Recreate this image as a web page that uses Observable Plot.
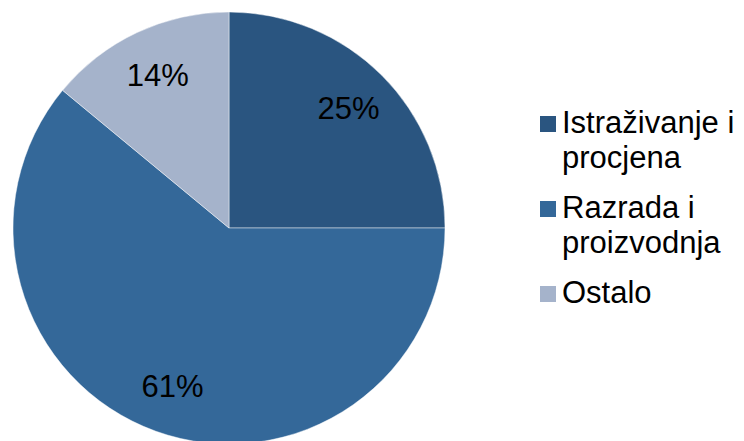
<!DOCTYPE html>
<html>
<head>
<meta charset="utf-8">
<script src="https://cdn.jsdelivr.net/npm/d3@7"></script>
<script src="https://cdn.jsdelivr.net/npm/@observablehq/plot@0.6"></script>
<style>
  html, body { margin: 0; padding: 0; background: #fff; }
  #wrap { position: relative; width: 744px; height: 441px; overflow: hidden; font-family: "Liberation Sans", Arial, sans-serif; }
  #legend { position: absolute; left: 540px; top: 106px; display: flex; flex-direction: column; gap: 16px; }
  .entry { position: relative; font-size: 31px; line-height: 34.5px; color: #000; white-space: nowrap; }
  .sw { position: absolute; left: 0; top: 10px; width: 16px; height: 16px; }
  .lab { margin-left: 22px; }
</style>
</head>
<body>
<div id="wrap"></div>
<script>
const categories = ["Istraživanje i procjena", "Razrada i proizvodnja", "Ostalo"];
const legendLines = [["Istraživanje i", "procjena"], ["Razrada i", "proizvodnja"], ["Ostalo"]];
const values = [25, 61, 14];
const labels = ["25%", "61%", "14%"];
const colors = ["#2A5580", "#346899", "#A5B3CB"];

const pieData = categories.map((c, i) => ({category: c, value: values[i], label: labels[i], color: colors[i]}));
const arcs = d3.pie().sort(null).value(d => d.value)(pieData);
const labelR = 0.78;
const labelData = arcs.map(a => {
  const mid = (a.startAngle + a.endAngle) / 2;
  return {x: labelR * Math.sin(mid), y: labelR * Math.cos(mid), label: a.data.label};
});

function pieMark(index, scales, values, dimensions, context) {
  const cx = scales.x(0), cy = scales.y(0), r = scales.x(1) - cx;
  const arcGen = d3.arc().innerRadius(0).outerRadius(r);
  const g = d3.create("svg:g").attr("transform", `translate(${cx},${cy})`);
  g.selectAll("path").data(arcs).join("path")
    .attr("d", arcGen)
    .attr("fill", d => d.data.color)
    .attr("stroke", "rgba(255,255,255,0.45)")
    .attr("stroke-width", 1);
  return g.node();
}

const plot = Plot.plot({
  width: 744,
  height: 441,
  margin: 0,
  x: {type: "linear", domain: [-1, 1], range: [13, 445], axis: null},
  y: {type: "linear", domain: [-1, 1], range: [444, 12], axis: null},
  style: {background: "transparent", overflow: "visible"},
  marks: [
    pieMark,
    Plot.text(labelData, {x: "x", y: "y", text: "label", fontSize: 31, fill: "#000", fontFamily: "Liberation Sans, Arial, sans-serif", textAnchor: "middle", lineAnchor: "middle"})
  ]
});

const wrap = document.getElementById("wrap");
wrap.appendChild(plot);

const legend = document.createElement("div");
legend.id = "legend";
categories.forEach((c, i) => {
  const e = document.createElement("div");
  e.className = "entry";
  const sw = document.createElement("div");
  sw.className = "sw";
  sw.style.background = colors[i];
  e.appendChild(sw);
  const t = document.createElement("div");
  t.className = "lab";
  t.innerHTML = legendLines[i].join("<br>");
  e.appendChild(t);
  legend.appendChild(e);
});
wrap.appendChild(legend);
</script>
</body>
</html>
